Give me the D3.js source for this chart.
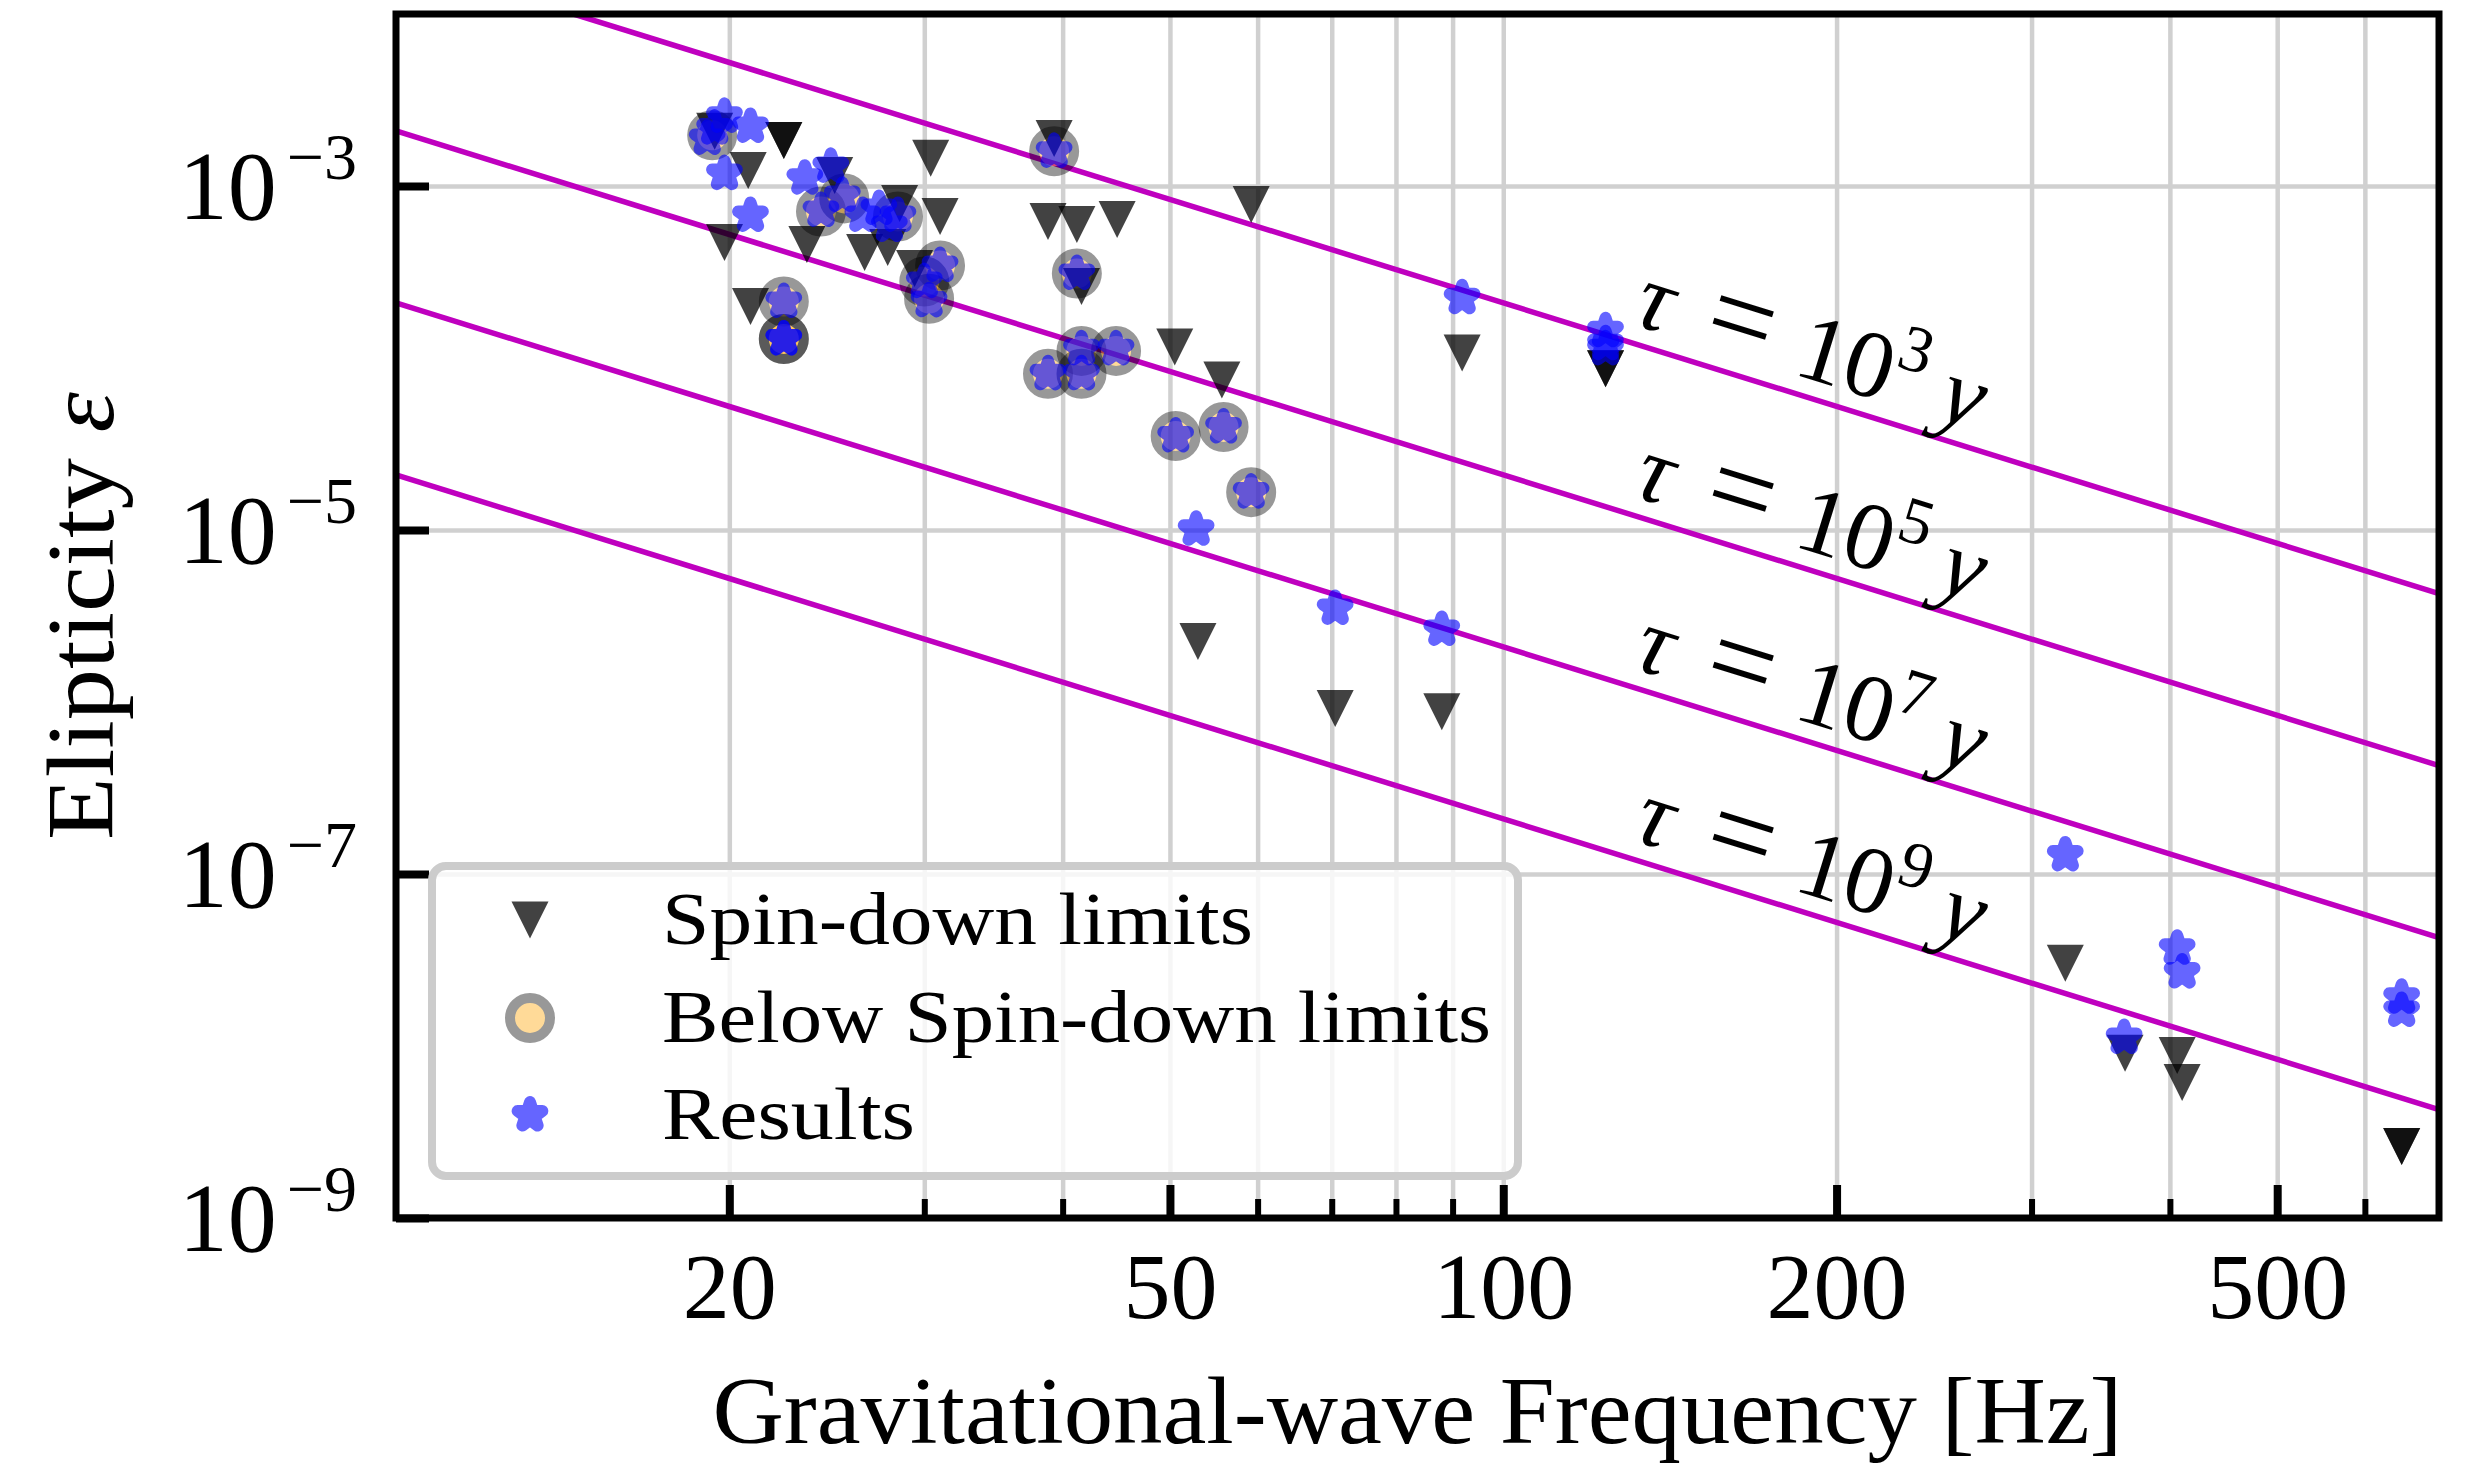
<!DOCTYPE html>
<html>
<head>
<meta charset="utf-8">
<script src="https://cdn.jsdelivr.net/npm/d3@7"></script>
<style>
  body { margin: 0; background: #fff; }
  svg { display: block; }
  text { font-family: "Liberation Serif", "Times New Roman", serif; fill: #000; }
</style>
</head>
<body>
<svg id="chart" width="2469" height="1464"></svg>
<script>
// spin-down limits (down triangles)
const spinFreq = [19.4, 22.4, 22.4, 20.8, 19.8, 20.9, 23.5, 26.5, 27.8, 28.5,
  30.4, 31.0, 29.4, 24.9, 39.3, 38.8, 41.2, 44.8, 41.6, 50.5,
  55.7, 59.2, 53.0, 70.5, 88.0, 91.8, 123.7, 123.7, 321.8, 364.4,
  406.1, 410.3, 647.7, 647.7];
const spinEps = [2.08e-3, 1.84e-3, 1.84e-3, 1.23e-3, 4.69e-4, 1.99e-4, 4.57e-4, 4.10e-4, 4.39e-4, 7.92e-4,
  1.45e-3, 6.65e-4, 3.31e-4, 1.15e-3, 1.89e-3, 6.22e-4, 5.97e-4, 6.39e-4, 2.60e-4, 1.16e-4,
  7.46e-5, 7.81e-4, 2.25e-6, 9.16e-7, 8.79e-7, 1.07e-4, 8.65e-5, 8.65e-5, 3.03e-8, 9.06e-9,
  8.81e-9, 6.14e-9, 2.60e-9, 2.60e-9];

// results below the spin-down limit (ringed circles)
const belowFreq = [19.3, 24.2, 25.4, 28.4, 22.4, 22.4, 22.4, 31.0, 30.0, 30.3,
  39.3, 41.2, 38.8, 41.6, 41.6, 44.7, 50.6, 55.9, 59.2];
const belowEps = [1.97e-3, 7.11e-4, 8.47e-4, 6.65e-4, 2.13e-4, 1.29e-4, 1.29e-4, 3.45e-4, 2.78e-4, 2.21e-4,
  1.59e-3, 3.10e-4, 8.09e-5, 1.10e-4, 8.09e-5, 1.10e-4, 3.52e-5, 3.97e-5, 1.66e-5];

// results (blue stars)
const resFreq = [19.4, 19.1, 19.8, 20.9, 19.8, 20.9, 23.4, 24.7, 24.2, 25.3,
  26.4, 27.9, 28.4, 27.3, 22.4, 22.4, 22.4, 31.0, 30.0, 30.3,
  39.3, 41.2, 38.8, 41.6, 41.6, 44.7, 50.6, 55.9, 59.2, 52.8,
  70.5, 88.0, 91.8, 123.7, 123.7, 123.7, 321.8, 363.7, 406.1, 410.3,
  647.7, 647.7];
const resEps = [2.17e-3, 1.89e-3, 2.54e-3, 2.22e-3, 1.18e-3, 6.74e-4, 1.11e-3, 1.30e-3, 7.21e-4, 8.81e-4,
  6.74e-4, 5.89e-4, 6.74e-4, 7.40e-4, 2.13e-4, 1.29e-4, 1.29e-4, 3.45e-4, 2.78e-4, 2.15e-4,
  1.59e-3, 3.10e-4, 8.09e-5, 1.13e-4, 8.09e-5, 1.13e-4, 3.52e-5, 3.97e-5, 1.66e-5, 1.01e-5,
  3.50e-6, 2.64e-6, 2.24e-4, 1.44e-4, 1.21e-4, 1.13e-4, 1.29e-7, 1.12e-8, 3.70e-8, 2.69e-8,
  1.92e-8, 1.61e-8];

// constant spin-down age lines, value at both ends of the frequency range
const tauExp = ["3", "5", "7", "9"];
const tauEpsLow = [2.09e-2, 2.09e-3, 2.09e-4, 2.09e-5];   // at 10 Hz
const tauEpsHigh = [4.27e-6, 4.27e-7, 4.27e-8, 4.27e-9];  // at 700 Hz
const tauLabelFreq = 129;

const xDomain = [10, 700];
const yDomain = [1e-9, 1e-2];
const xMajor = [20, 50, 100, 200, 500];
const xMinor = [30, 40, 60, 70, 80, 90, 300, 400, 600];
const yMajor = [1e-3, 1e-5, 1e-7, 1e-9];
const yGrid = [1e-3, 1e-5, 1e-7];
const yExpLabels = ["\u22123", "\u22125", "\u22127", "\u22129"];
const legendLabels = ["Spin-down limits", "Below Spin-down limits", "Results"];

const svg = d3.select("#chart");
const pL = 396, pR = 2439, pT = 14, pB = 1218;

const x = d3.scaleLog().domain(xDomain).range([pL, pR]);
const y = d3.scaleLog().domain(yDomain).range([pB, pT]);

svg.append("rect").attr("width", 2469).attr("height", 1464).attr("fill", "#fff");

svg.append("defs").append("clipPath").attr("id", "plotclip")
  .append("rect").attr("x", pL).attr("y", pT)
  .attr("width", pR - pL).attr("height", pB - pT);

// grid
const gx = svg.append("g").attr("transform", "translate(0," + pB + ")")
  .call(d3.axisBottom(x).tickValues(xMajor.concat(xMinor)).tickSize(-(pB - pT)).tickFormat(""));
const gy = svg.append("g").attr("transform", "translate(" + pL + ",0)")
  .call(d3.axisLeft(y).tickValues(yGrid).tickSize(-(pR - pL)).tickFormat(""));
[gx, gy].forEach(g => {
  g.select(".domain").remove();
  g.selectAll("line").attr("stroke", "#d0d0d0").attr("stroke-width", 4.5);
});

const plot = svg.append("g").attr("clip-path", "url(#plotclip)");

// age lines
plot.selectAll(".tau")
  .data(tauExp)
  .enter().append("line")
  .attr("class", "tau")
  .attr("x1", x(xDomain[0]))
  .attr("y1", (d, i) => y(tauEpsLow[i]))
  .attr("x2", x(xDomain[1]))
  .attr("y2", (d, i) => y(tauEpsHigh[i]))
  .attr("stroke", "#bf00bf")
  .attr("stroke-width", 5.5);

// below spin-down circles
plot.selectAll(".below")
  .data(belowFreq)
  .enter().append("circle")
  .attr("class", "below")
  .attr("cx", d => x(d))
  .attr("cy", (d, i) => y(belowEps[i]))
  .attr("r", 20)
  .attr("fill", "#ffa500")
  .attr("stroke", "#000")
  .attr("stroke-width", 10)
  .attr("opacity", 0.4);

// spin-down triangles
const triPath = "M-18.5,-18.5L18.5,-18.5L0,18.5Z";
plot.selectAll(".spin")
  .data(spinFreq)
  .enter().append("path")
  .attr("class", "spin")
  .attr("d", triPath)
  .attr("transform", (d, i) => "translate(" + x(d) + "," + y(spinEps[i]) + ")")
  .attr("fill", "#000")
  .attr("opacity", 0.74);

// result stars, thick round edge gives the rounded look
const star = d3.symbol().type(d3.symbolStar).size(190)();
plot.selectAll(".res")
  .data(resFreq)
  .enter().append("path")
  .attr("class", "res")
  .attr("d", star)
  .attr("transform", (d, i) => "translate(" + x(d) + "," + y(resEps[i]) + ")")
  .attr("fill", "#0000ff")
  .attr("stroke", "#0000ff")
  .attr("stroke-width", 12)
  .attr("stroke-linejoin", "round")
  .attr("opacity", 0.6);

// age labels, rotated along the lines
const angle = Math.atan2(y(tauEpsHigh[0]) - y(tauEpsLow[0]), x(xDomain[1]) - x(xDomain[0])) * 180 / Math.PI;
tauExp.forEach((e, i) => {
  const t = Math.log(tauLabelFreq / xDomain[0]) / Math.log(xDomain[1] / xDomain[0]);
  const eps = Math.exp(Math.log(tauEpsLow[i]) + t * (Math.log(tauEpsHigh[i]) - Math.log(tauEpsLow[i])));
  const g = svg.append("g")
    .attr("transform", "translate(" + x(tauLabelFreq) + "," + y(eps) + ") rotate(" + angle + ")");
  const by = -18;
  g.append("text").attr("x", 0).attr("y", by).attr("font-size", 96).attr("font-style", "italic").text("\u03c4");
  g.append("text").attr("x", 72).attr("y", by).attr("font-size", 118).text("=");
  g.append("text").attr("x", 168).attr("y", by).attr("font-size", 96).text("10");
  g.append("text").attr("x", 264).attr("y", by - 38).attr("font-size", 66).text(e);
  g.append("text").attr("x", 318).attr("y", by).attr("font-size", 96).attr("font-style", "italic").text("y");
});

// spines
svg.append("rect")
  .attr("x", pL).attr("y", pT)
  .attr("width", pR - pL).attr("height", pB - pT)
  .attr("fill", "none").attr("stroke", "#000").attr("stroke-width", 7);

// x ticks
const xt = svg.append("g").attr("transform", "translate(0," + pB + ")")
  .call(d3.axisBottom(x).tickValues(xMajor).tickSize(-33).tickFormat(d3.format("d")));
xt.select(".domain").remove();
xt.selectAll("line").attr("stroke", "#000").attr("stroke-width", 8);
xt.selectAll("text").attr("y", 100).attr("dy", null)
  .attr("font-size", 94).attr("font-family", "Liberation Serif").attr("fill", "#000");

const xm = svg.append("g").attr("transform", "translate(0," + pB + ")")
  .call(d3.axisBottom(x).tickValues(xMinor).tickSize(-19).tickFormat(""));
xm.select(".domain").remove();
xm.selectAll("line").attr("stroke", "#000").attr("stroke-width", 6);

// y ticks with power-of-ten labels
const yt = svg.append("g").attr("transform", "translate(" + pL + ",0)")
  .call(d3.axisLeft(y).tickValues(yMajor).tickSize(-33).tickFormat(""));
yt.select(".domain").remove();
yt.selectAll("line").attr("stroke", "#000").attr("stroke-width", 8);
yt.selectAll(".tick").each(function(d, i) {
  const lab = d3.select(this).append("text")
    .attr("x", -39).attr("y", 32)
    .attr("text-anchor", "end")
    .attr("font-family", "Liberation Serif")
    .attr("fill", "#000");
  lab.append("tspan").attr("font-size", 98).text("10");
  lab.append("tspan").attr("font-size", 66).attr("dx", 10).attr("dy", -40).text(yExpLabels[i]);
});

// axis labels
svg.append("text")
  .attr("x", (pL + pR) / 2).attr("y", 1443)
  .attr("text-anchor", "middle").attr("font-size", 95)
  .attr("textLength", 1410).attr("lengthAdjust", "spacingAndGlyphs")
  .text("Gravitational-wave Frequency [Hz]");

svg.append("text")
  .attr("transform", "translate(113," + (pT + pB) / 2 + ") rotate(-90)")
  .attr("text-anchor", "middle").attr("font-size", 95)
  .attr("textLength", 448).attr("lengthAdjust", "spacingAndGlyphs")
  .html("Elipticity <tspan font-style=\"italic\">\u03b5</tspan>");

// legend
const lg = svg.append("g");
lg.append("rect")
  .attr("x", 432).attr("y", 866).attr("width", 1086).attr("height", 310)
  .attr("rx", 14)
  .attr("fill", "#fff").attr("fill-opacity", 0.8)
  .attr("stroke", "#cccccc").attr("stroke-width", 8);

const rowY = [920, 1018, 1115];
const textW = [591, 829, 253];
lg.append("path").attr("d", triPath).attr("transform", "translate(530," + rowY[0] + ")")
  .attr("fill", "#000").attr("opacity", 0.74);
lg.append("circle").attr("cx", 530).attr("cy", rowY[1]).attr("r", 20)
  .attr("fill", "#ffa500").attr("stroke", "#000").attr("stroke-width", 10).attr("opacity", 0.4);
lg.append("path").attr("d", star).attr("transform", "translate(530," + rowY[2] + ")")
  .attr("fill", "#0000ff").attr("stroke", "#0000ff").attr("stroke-width", 12)
  .attr("stroke-linejoin", "round").attr("opacity", 0.6);

lg.selectAll(".ltext")
  .data(legendLabels)
  .enter().append("text")
  .attr("class", "ltext")
  .attr("x", 662)
  .attr("y", (d, i) => rowY[i] + 24)
  .attr("font-size", 74)
  .attr("textLength", (d, i) => textW[i])
  .attr("lengthAdjust", "spacingAndGlyphs")
  .text(d => d);
</script>
</body>
</html>
